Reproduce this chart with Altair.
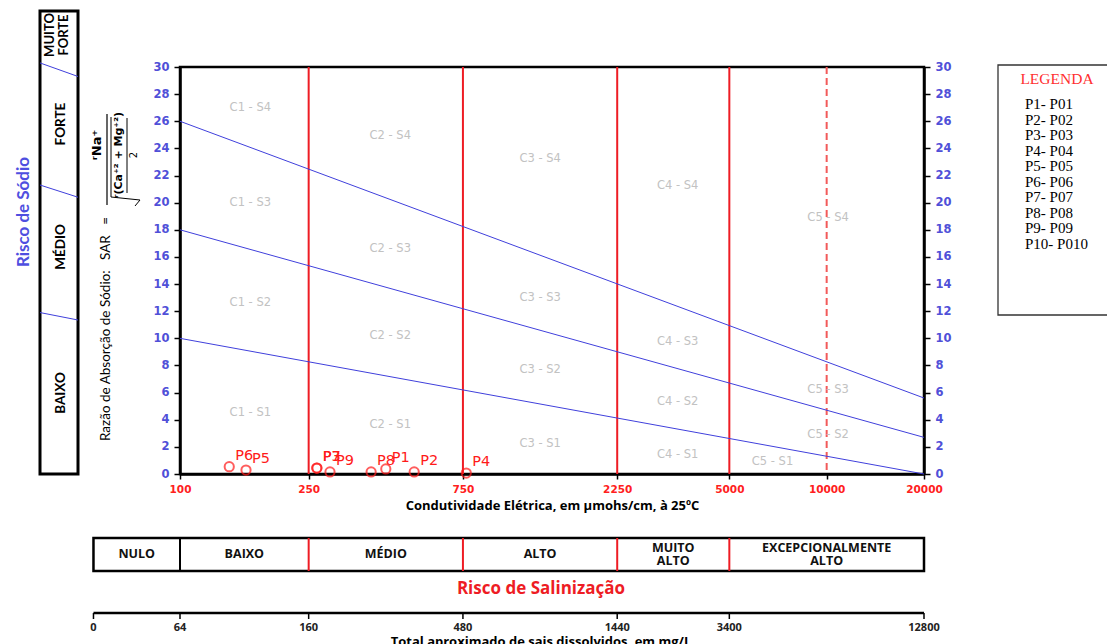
import altair as alt
import pandas as pd

# ---------------- data ----------------
ec_range = [100, 20000]            # electrical conductivity, µmhos/cm
sar_range = [0, 30]

# boundaries between sodium classes (SAR at EC = 100 and EC = 20000)
sar_s1_s2 = [10.0, 0.0]
sar_s2_s3 = [18.0, 2.7]
sar_s3_s4 = [26.0, 5.6]

ec_class_limits = [250, 750, 2250, 5000]
ec_class_limit_dashed = [10000]

zone_names = ["C1 - S4", "C2 - S4", "C3 - S4", "C4 - S4", "C5 - S4",
              "C1 - S3", "C2 - S3", "C3 - S3", "C4 - S3", "C5 - S3",
              "C1 - S2", "C2 - S2", "C3 - S2", "C4 - S2", "C5 - S2",
              "C1 - S1", "C2 - S1", "C3 - S1", "C4 - S1", "C5 - S1"]
zone_ec = [165, 447, 1300, 3460, 10100,
           165, 447, 1300, 3460, 10100,
           165, 447, 1300, 3460, 10100,
           165, 447, 1300, 3460, 6800]
zone_sar = [27.0, 24.9, 23.2, 21.2, 18.9,
            20.0, 16.6, 13.0, 9.75, 6.2,
            12.6, 10.2, 7.7, 5.3, 2.9,
            4.5, 3.6, 2.2, 1.4, 0.85]

# water samples (P7 sits under P3)
sample_names = ["P1", "P2", "P7", "P3", "P4", "P5", "P6", "P8", "P9"]
sample_ec = [433, 530, 265, 265, 768, 160, 142, 390, 291]
sample_sar = [0.37, 0.15, 0.44, 0.44, 0.07, 0.29, 0.54, 0.15, 0.15]

sar_ticks = list(range(0, 31, 2))
ec_ticks = [100, 250, 750, 2250, 5000, 10000, 20000]

salinity_names = ["NULO", "BAIXO", "MÉDIO", "ALTO", "MUITO\nALTO", "EXCEPCIONALMENTE\nALTO"]
salinity_edges = [54, 100, 250, 750, 2250, 5000, 20000]
tds_labels = ["0", "64", "160", "480", "1440", "3400", "12800"]

sodium_risk_names = ["MUITO\nFORTE", "FORTE", "MÉDIO", "BAIXO"]
# slanted dividers of the sodium-risk bar, in SAR units (left end, right end)
risk_div_left = [30.3, 21.3, 11.9]
risk_div_right = [29.3, 20.4, 11.35]

legend_items = ["P1- P01", "P2- P02", "P3- P03", "P4- P04", "P5- P05",
                "P6- P06", "P7- P07", "P8- P08", "P9- P09", "P10- P010"]

# ---------------- styling / layout ----------------
BLUE_TXT = "#5050d8"
LINE_BLUE = "#4040dc"
RED = "#ee1c24"
GRAY = "#c2c2c2"
SANS = "Open Sans"
NARROW = "Lato"
VERD = "DejaVu Sans"
NBSP = "\u00a0"

OX, OY = 180, 67          # plot origin inside the page
W, H = 744, 407           # plot area
PAGE_W, PAGE_H = 1107, 644


def px(x):
    return x - OX


def py(y):
    return y - OY


xs = alt.Scale(type="log", domain=ec_range, nice=False)
ys = alt.Scale(type="linear", domain=sar_range, nice=False, zero=False)

one = pd.DataFrame({"k": [0]})


def note(text, x, y, size, color="black", font=SANS, weight="normal",
         angle=0, align="center", baseline="middle", line_height=None):
    kw = dict(text=text, fontSize=size, color=color, font=font,
              fontWeight=weight, angle=angle, align=align, baseline=baseline)
    if "\n" in text:
        kw.update(lineBreak="\n", lineHeight=line_height or size + 2)
    return alt.Chart(one).mark_text(**kw).encode(
        x=alt.value(px(x)), y=alt.value(py(y)))


def seg(x1, y1, x2, y2, color="black", width=1.0):
    return alt.Chart(one).mark_rule(color=color, strokeWidth=width).encode(
        x=alt.value(px(x1)), y=alt.value(py(y1)),
        x2=alt.value(px(x2)), y2=alt.value(py(y2)))


def box(x1, y1, x2, y2, color="black", width=1.0):
    return alt.Chart(one).mark_rect(fill="transparent", stroke=color,
                                    strokeWidth=width).encode(
        x=alt.value(px(x1)), y=alt.value(py(y1)),
        x2=alt.value(px(x2)), y2=alt.value(py(y2)))


# ---------------- main diagram ----------------
lines_df = pd.DataFrame({
    "ec": ec_range * 3,
    "sar": sar_s1_s2 + sar_s2_s3 + sar_s3_s4,
    "line": ["S1/S2"] * 2 + ["S2/S3"] * 2 + ["S3/S4"] * 2,
})

x_axis = alt.Axis(values=ec_ticks, format="d", labelColor="#ff2020",
                  labelFont=VERD, labelFontWeight="bold", labelFontSize=10.5,
                  labelPadding=5, labelFlush=False, labelOverlap=False,
                  domainColor="black", domainWidth=2.5,
                  tickColor="black", tickSize=5, tickWidth=1.5, grid=False,
                  title="Condutividade Elétrica, em µmohs/cm, à 25ºC",
                  titleFont=SANS, titleFontWeight="bold", titleFontSize=13,
                  titleColor="black", titlePadding=5)


def sar_axis(orient):
    return alt.Axis(orient=orient, values=sar_ticks, labelColor=BLUE_TXT,
                    labelFont=VERD, labelFontWeight="bold", labelFontSize=11.5,
                    labelPadding=5, labelFlush=False, labelOverlap=False,
                    domainColor="black", domainWidth=2.5,
                    tickColor="black", tickSize=6, tickWidth=1.5,
                    grid=False, title=None)


boundary_lines = alt.Chart(lines_df).mark_line(
    color=LINE_BLUE, strokeWidth=1).encode(
    x=alt.X("ec:Q", scale=xs, axis=x_axis),
    y=alt.Y("sar:Q", scale=ys, axis=sar_axis("left")),
    detail="line:N")

right_axis = alt.Chart(pd.DataFrame({"sar": sar_ticks})).mark_point(
    opacity=0).encode(
    x=alt.value(0),
    y=alt.Y("sar:Q", scale=ys, axis=sar_axis("right")))

class_rules = alt.Chart(pd.DataFrame({"ec": ec_class_limits})).mark_rule(
    color=RED, strokeWidth=2).encode(x=alt.X("ec:Q", scale=xs, axis=None))

class_rule_dashed = alt.Chart(pd.DataFrame({"ec": ec_class_limit_dashed})).mark_rule(
    color="#f25a5a", strokeWidth=2, strokeDash=[7, 4]).encode(
    x=alt.X("ec:Q", scale=xs, axis=None))

zones = alt.Chart(pd.DataFrame({"name": zone_names, "ec": zone_ec, "sar": zone_sar})
                  ).mark_text(font=VERD, fontSize=11.5, color=GRAY).encode(
    x=alt.X("ec:Q", scale=xs, axis=None),
    y=alt.Y("sar:Q", scale=ys, axis=None),
    text="name:N")

samples_df = pd.DataFrame({"name": sample_names, "ec": sample_ec, "sar": sample_sar})
samples = alt.Chart(samples_df).mark_point(
    shape="circle", filled=False, color="#ff1a1a", size=85, strokeWidth=2).encode(
    x=alt.X("ec:Q", scale=xs, axis=None),
    y=alt.Y("sar:Q", scale=ys, axis=None))
sample_labels = alt.Chart(samples_df).mark_text(
    align="left", baseline="middle", dx=6, dy=-11, font=VERD, fontSize=14.5,
    color="#ff1a1a").encode(
    x=alt.X("ec:Q", scale=xs, axis=None),
    y=alt.Y("sar:Q", scale=ys, axis=None),
    text="name:N")

# ---------------- sodium-risk bar and SAR title (left) ----------------
risk_dividers = alt.Chart(pd.DataFrame({"a": risk_div_left, "b": risk_div_right})
                          ).mark_rule(color=LINE_BLUE, strokeWidth=1).encode(
    x=alt.value(px(40)), x2=alt.value(px(78)),
    y=alt.Y("a:Q", scale=ys, axis=None), y2="b:Q")

sar_title = ("Razão de Absorção de Sódio:" + NBSP * 3 + "SAR" + NBSP * 3 + "=")

left_parts = [
    box(40, 11, 78, 474, "black", 3),
    risk_dividers,
    note(sodium_risk_names[0], 50, 35, 13, font=NARROW, weight="bold", angle=270, line_height=14),
    note(sodium_risk_names[1], 61, 124, 13.5, font=NARROW, weight="bold", angle=270),
    note(sodium_risk_names[2], 61, 247, 13.5, font=NARROW, weight="bold", angle=270),
    note(sodium_risk_names[3], 61, 393, 13.5, font=NARROW, weight="bold", angle=270),
    note("Risco de Sódio", 24, 212, 17, color="#4f4fe0", font="Lato", weight="bold", angle=270),
    note(sar_title, 106, 329, 13.5, font=NARROW, angle=270),
    # SAR formula
    note("ʳNa⁺", 97, 145, 13, font=VERD, weight="bold", angle=270),
    seg(107, 114, 107, 205, "black", 1.2),
    seg(111, 117, 111, 197, "black", 1),
    seg(111, 197, 140, 200, "black", 1),
    seg(140, 200, 135, 206, "black", 1),
    note("ʳ(Ca⁺² + Mg⁺²)", 119, 155, 11, font=VERD, weight="bold", angle=270),
    seg(127, 118, 127, 193, "black", 1),
    note("2", 134, 155, 10, font=VERD, angle=270),
]

# ---------------- salinity table and TDS scale (bottom) ----------------
span_df = pd.DataFrame({"a": [salinity_edges[0]], "b": [salinity_edges[-1]]})
table_box = alt.Chart(span_df).mark_rect(
    fill="transparent", stroke="black", strokeWidth=2.5).encode(
    x=alt.X("a:Q", scale=xs, axis=None), x2="b:Q",
    y=alt.value(py(538)), y2=alt.value(py(571)))

div_df = pd.DataFrame({"ec": salinity_edges[1:-1],
                       "c": ["black"] + [RED] * (len(salinity_edges) - 3)})
table_dividers = alt.Chart(div_df).mark_rule(strokeWidth=2).encode(
    x=alt.X("ec:Q", scale=xs, axis=None),
    y=alt.value(py(538)), y2=alt.value(py(571)),
    color=alt.Color("c:N", scale=None))

cls_df = pd.DataFrame({
    "name": salinity_names,
    "lo": salinity_edges[:-1],
    "hi": salinity_edges[1:],
})
cls_df["two_lines"] = cls_df["name"].str.contains("\n")


def table_text(two_lines, y):
    return alt.Chart(cls_df[cls_df["two_lines"] == two_lines]).transform_calculate(
        mid="sqrt(datum.lo * datum.hi)").mark_text(
        font=SANS, fontWeight="bold", fontSize=12.5, lineBreak="\n", lineHeight=13,
        baseline="middle", color="#111111").encode(
        x=alt.X("mid:Q", scale=xs, axis=None),
        y=alt.value(py(y)),
        text="name:N")


tds_line = alt.Chart(span_df).mark_rule(color="black", strokeWidth=2.5).encode(
    x=alt.X("a:Q", scale=xs, axis=None), x2="b:Q", y=alt.value(py(613)))
tds_df = pd.DataFrame({"ec": salinity_edges, "label": tds_labels})
tds_ticks = alt.Chart(tds_df).mark_rule(color="black", strokeWidth=1.5).encode(
    x=alt.X("ec:Q", scale=xs, axis=None),
    y=alt.value(py(613)), y2=alt.value(py(619)))
tds_text = alt.Chart(tds_df).mark_text(
    font=SANS, fontWeight="bold", fontSize=11, baseline="middle",
    color="#222222").encode(
    x=alt.X("ec:Q", scale=xs, axis=None), y=alt.value(py(627.5)), text="label:N")

bottom_parts = [
    table_box, table_dividers,
    table_text(False, 554), table_text(True, 548),
    note("Risco de Salinização", 541, 589, 17, color=RED, weight="bold"),
    tds_line, tds_ticks, tds_text,
    note("Total aproximado de sais dissolvidos, em mg/L", 541, 641.5, 13, weight="bold"),
]

# ---------------- legend box (right) ----------------
legend_parts = [
    box(998, 65, 1112, 315, "#333333", 1.3),
    note("LEGENDA", 1057, 79, 15.5, color="#ff3030", font="Liberation Serif"),
    note("\n".join(legend_items), 1025, 97, 15, font="Liberation Serif",
         align="left", baseline="top", line_height=15.5),
]

chart = alt.layer(
    class_rules, class_rule_dashed, boundary_lines, right_axis, zones,
    samples, sample_labels,
    *left_parts, *bottom_parts, *legend_parts,
).resolve_axis(
    x="independent", y="independent"
).properties(
    width=W, height=H,
    padding={"left": OX, "top": OY, "right": PAGE_W - OX - W,
             "bottom": PAGE_H - OY - H},
    autosize=alt.AutoSizeParams(type="none"),
    background="white",
).configure_view(stroke="black", strokeWidth=2.5)

chart.save("out.html", embed_options={"renderer": "svg", "actions": False})
